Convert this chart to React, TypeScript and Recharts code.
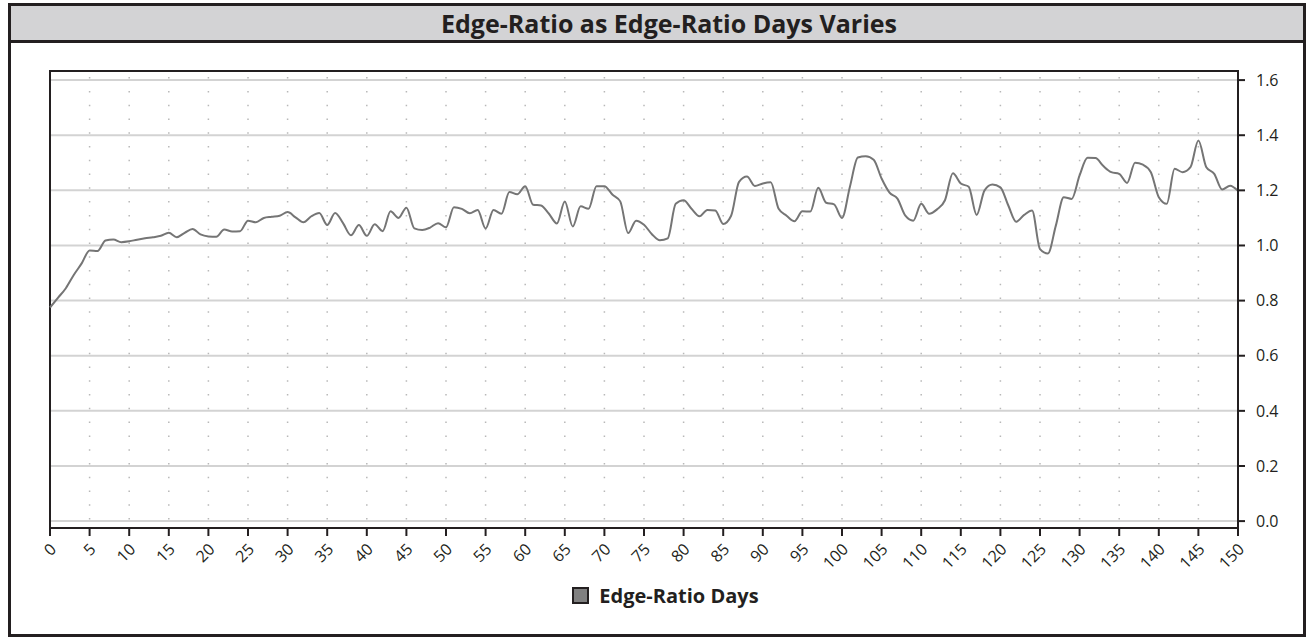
import { LineChart, Line, XAxis, YAxis, CartesianGrid, ReferenceArea } from "recharts";

const chartTitle = "Edge-Ratio as Edge-Ratio Days Varies";
const seriesName = "Edge-Ratio Days";

// edge-ratio for day 0..150
const edgeRatio = [
  0.775, 0.81, 0.845, 0.893, 0.935, 0.982, 0.98, 1.018, 1.022, 1.012,
  1.015, 1.021, 1.026, 1.03, 1.035, 1.046, 1.03, 1.046, 1.06, 1.04,
  1.033, 1.032, 1.058, 1.051, 1.052, 1.09, 1.084, 1.1, 1.104, 1.108,
  1.121, 1.102, 1.084, 1.106, 1.118, 1.074, 1.118, 1.081, 1.037, 1.074,
  1.035, 1.077, 1.052, 1.124, 1.1, 1.137, 1.062, 1.056, 1.065, 1.081,
  1.066, 1.139, 1.133, 1.117, 1.129, 1.062, 1.129, 1.115, 1.194, 1.186,
  1.215, 1.148, 1.145, 1.115, 1.08, 1.16, 1.069, 1.142, 1.133, 1.215,
  1.215, 1.185, 1.16, 1.045, 1.09, 1.075, 1.041, 1.019, 1.026, 1.151,
  1.164, 1.133, 1.106, 1.129, 1.127, 1.078, 1.108, 1.231, 1.25, 1.216,
  1.225, 1.229, 1.133, 1.108, 1.088, 1.124, 1.123, 1.209, 1.155, 1.149,
  1.1, 1.213, 1.319, 1.324, 1.311, 1.243, 1.192, 1.17, 1.108, 1.09,
  1.151, 1.115, 1.131, 1.164, 1.262, 1.225, 1.213, 1.111, 1.2, 1.221,
  1.211, 1.145, 1.086, 1.111, 1.127, 0.987, 0.971, 1.072, 1.175, 1.169,
  1.254, 1.318, 1.317, 1.288, 1.266, 1.26, 1.227, 1.3, 1.293, 1.266,
  1.175, 1.151, 1.278, 1.266, 1.284, 1.381, 1.284, 1.26, 1.203, 1.217,
  1.198,
];

const xTicks = [0, 5, 10, 15, 20, 25, 30, 35, 40, 45, 50, 55, 60, 65, 70, 75, 80, 85, 90, 95, 100, 105, 110, 115, 120, 125, 130, 135, 140, 145, 150];
const yTicks = [0, 0.2, 0.4, 0.6, 0.8, 1.0, 1.2, 1.4, 1.6];

const data = edgeRatio.map((v, i) => ({ day: i, value: v }));

const dark = "#231f20";
const font = "'Open Sans', 'Noto Sans', sans-serif";

function XTick({ x, y, payload }: any) {
  return (
    <g transform={`translate(${x + 3},${y + 8})`}>
      <text
        textAnchor="end"
        dominantBaseline="central"
        transform="rotate(-45)"
        fontSize={16}
        fill={dark}
        fontFamily={font}
      >
        {payload.value}
      </text>
    </g>
  );
}

function dottedLine(props: any) {
  const { x1, y1, x2, y2, key } = props;
  return (
    <line
      key={key}
      x1={x1}
      y1={y1}
      x2={x2}
      y2={y2}
      stroke="#b8b8b8"
      strokeWidth={1.5}
      strokeDasharray="1.5 12.28"
      strokeDashoffset={-6.1}
    />
  );
}

export default function App() {
  return (
    <div style={{ position: "absolute", left: 0, top: 0, width: 1309, height: 639, fontFamily: font }}>
      <div
        style={{
          position: "absolute",
          left: 8,
          top: 3,
          width: 1298,
          height: 634,
          boxSizing: "border-box",
          border: `3px solid ${dark}`,
          background: "#fff",
        }}
      >
        <div
          style={{
            height: 34,
            background: "#d3d3d5",
            borderBottom: `3px solid ${dark}`,
            textAlign: "center",
            fontWeight: 700,
            fontSize: 25,
            lineHeight: "34px",
            color: dark,
            paddingLeft: 24,
          }}
        >
          {chartTitle}
        </div>
      </div>

      <div style={{ position: "absolute", left: 0, top: 0 }}>
        <LineChart
          width={1309}
          height={639}
          data={data}
          margin={{ top: 71, left: 50, right: 11, bottom: 51 }}
          style={{ fontFamily: font }}
        >
          <CartesianGrid horizontal={true} vertical={false} stroke="#d3d3d3" strokeWidth={2} />
          <CartesianGrid horizontal={false} vertical={dottedLine} />
          <ReferenceArea
            x1={0}
            x2={150}
            y1={-0.025}
            y2={1.633}
            fill="none"
            stroke={dark}
            strokeWidth={2}
          />
          <XAxis
            dataKey="day"
            type="number"
            domain={[0, 150]}
            ticks={xTicks}
            interval={0}
            height={60}
            tickSize={8}
            axisLine={{ stroke: dark, strokeWidth: 2 }}
            tickLine={{ stroke: dark, strokeWidth: 2 }}
            tick={<XTick />}
          />
          <YAxis
            orientation="right"
            type="number"
            domain={[-0.025, 1.633]}
            allowDataOverflow
            ticks={yTicks}
            interval={0}
            width={60}
            tickSize={7}
            tickMargin={11}
            tickFormatter={(v: number) => v.toFixed(1)}
            axisLine={{ stroke: dark, strokeWidth: 2 }}
            tickLine={{ stroke: dark, strokeWidth: 2 }}
            tick={{ fontSize: 16, fill: dark, fontFamily: font }}
          />
          <Line
            type="monotone"
            dataKey="value"
            name={seriesName}
            stroke="#757575"
            strokeWidth={2}
            dot={false}
            isAnimationActive={false}
          />
        </LineChart>
      </div>

      <div
        style={{
          position: "absolute",
          left: 0,
          width: 1309,
          top: 582,
          display: "flex",
          justifyContent: "center",
          alignItems: "center",
          gap: 10,
          fontWeight: 700,
          fontSize: 20,
          color: dark,
          paddingLeft: 22,
          boxSizing: "border-box",
        }}
      >
        <span
          style={{
            width: 13,
            height: 13,
            background: "#808080",
            border: `2px solid ${dark}`,
            display: "inline-block",
          }}
        />
        <span>{seriesName}</span>
      </div>
    </div>
  );
}
